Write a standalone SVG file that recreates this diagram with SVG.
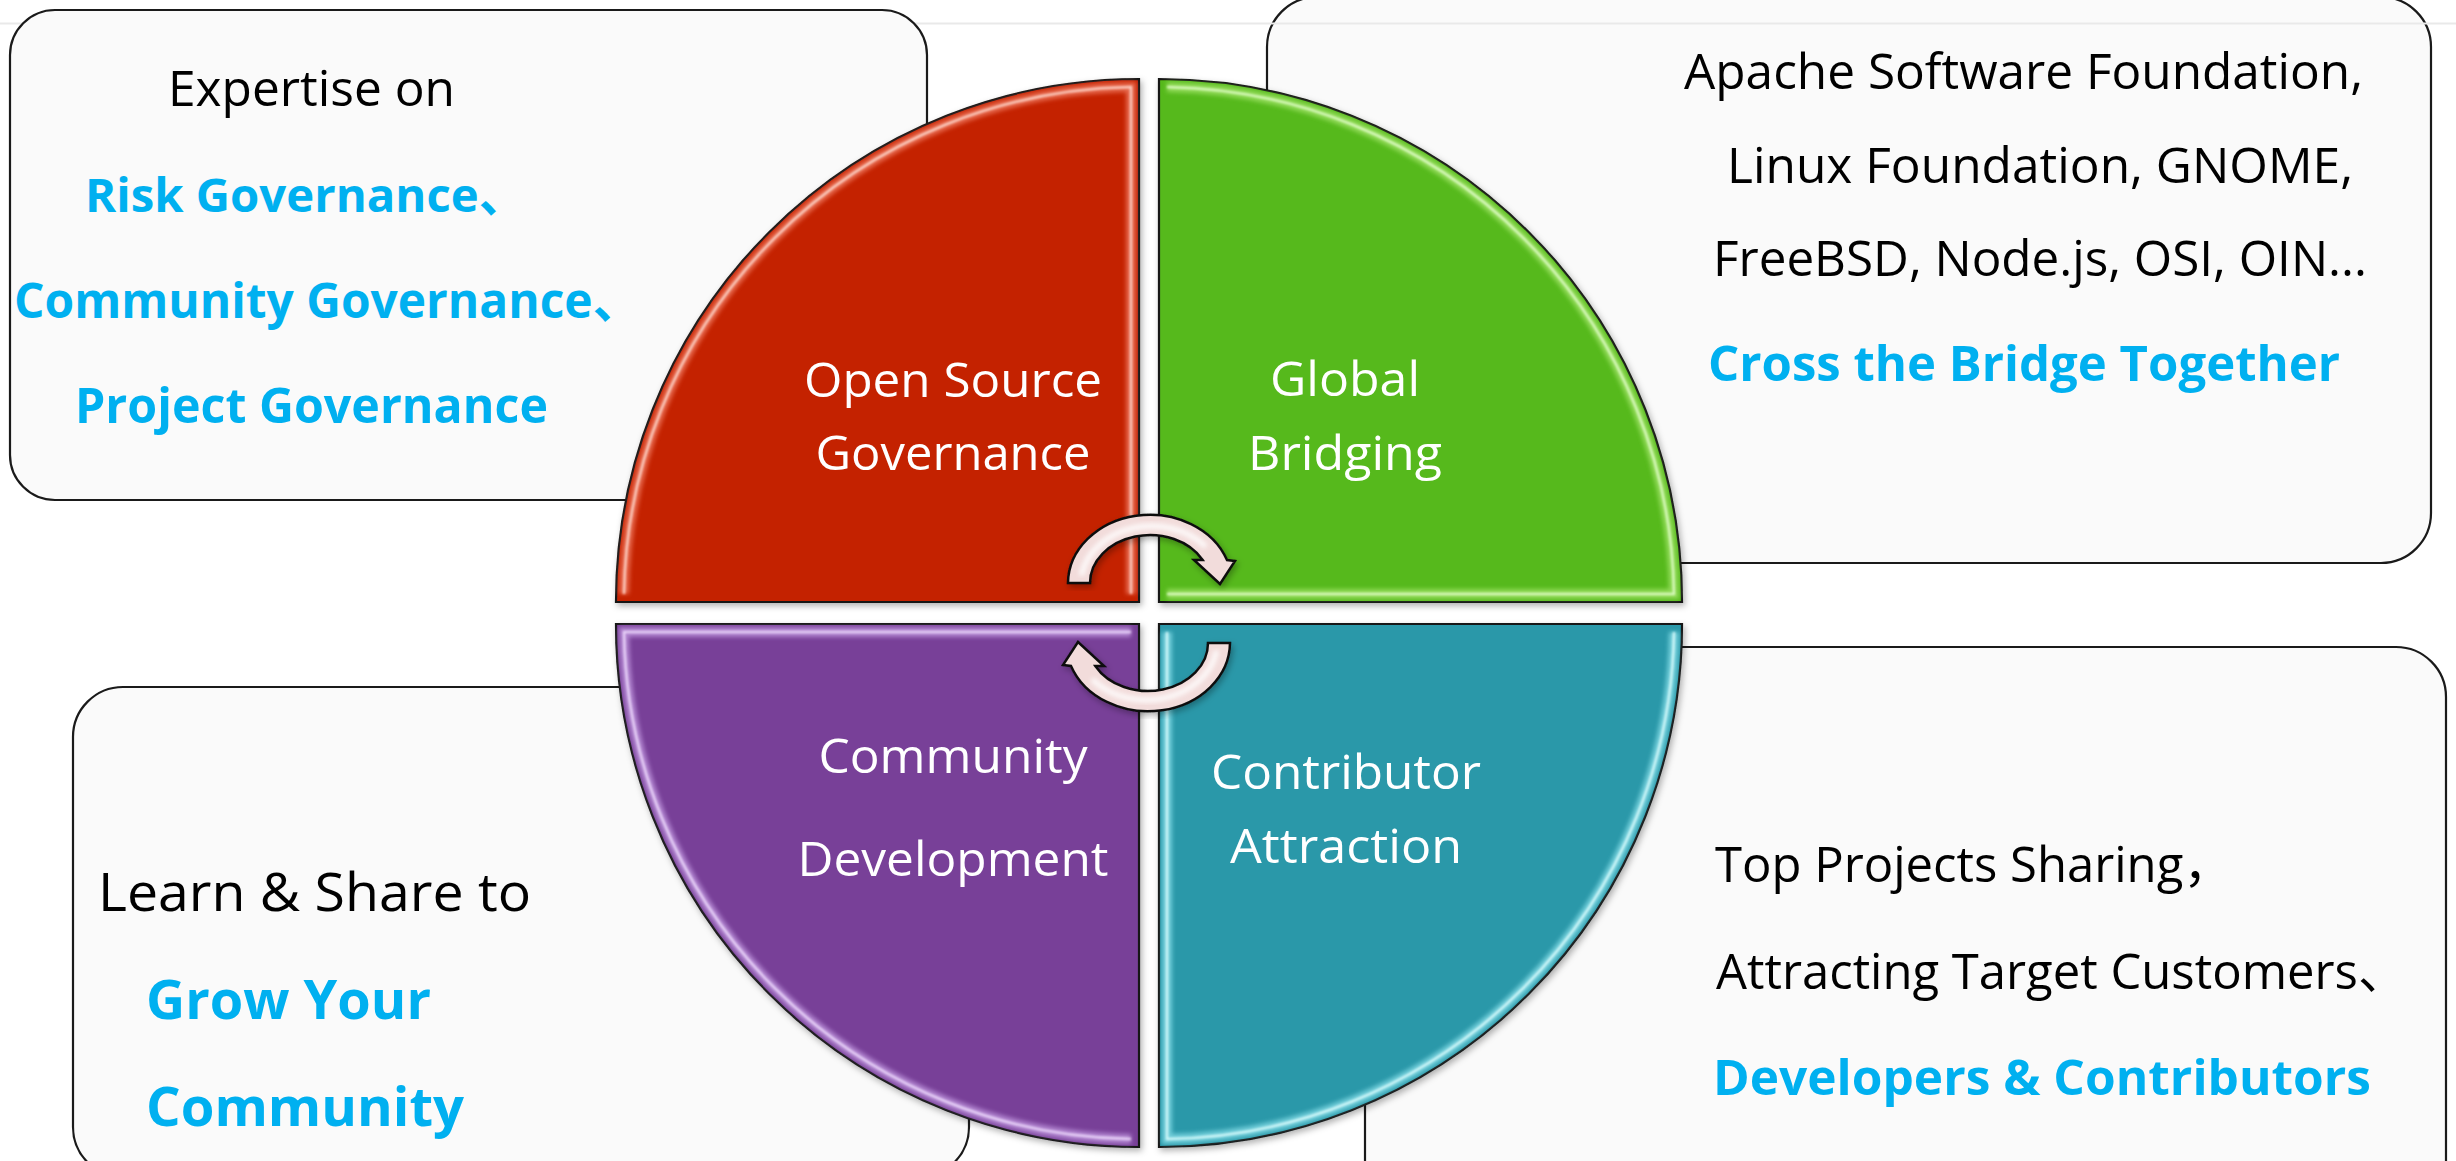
<svg xmlns="http://www.w3.org/2000/svg" width="2456" height="1161" viewBox="0 0 2456 1161">
<defs>
<style>
.box{fill:#FAFAFA;stroke:#1a1a1a;stroke-width:2.2}
.t{font-family:"Open Sans","Noto Sans CJK SC",sans-serif;font-size:49px;fill:#000}
.b{font-weight:700;fill:#00B0F0}
.w{fill:#fff;font-size:48px;text-anchor:middle}
.q{stroke:#151515;stroke-width:2.2;filter:url(#shadow)}
.hlw{fill:none;stroke-width:10;stroke-linejoin:miter;opacity:0.7;filter:url(#soft)}
.hln{fill:none;stroke-width:2.5;stroke-linejoin:miter;opacity:0.85;filter:url(#soft2)}
.arrow{fill:#F2DCDB;stroke:#111;stroke-width:2.5;stroke-linejoin:miter;filter:url(#shadow)}
.ahl{fill:none;stroke:#fff;stroke-width:6;stroke-linecap:round;opacity:0.75;filter:url(#soft)}
</style>
<filter id="shadow" x="-10%" y="-10%" width="120%" height="120%">
<feDropShadow dx="2" dy="3" stdDeviation="3" flood-color="#000" flood-opacity="0.3"/>
</filter>
<filter id="soft" x="-10%" y="-10%" width="120%" height="120%">
<feGaussianBlur stdDeviation="2"/>
</filter>
<filter id="soft2" x="-10%" y="-10%" width="120%" height="120%">
<feGaussianBlur stdDeviation="0.8"/>
</filter>
</defs>
<rect x="0" y="0" width="2456" height="1161" fill="#ffffff"/>

<g id="box-global-bridging">
<rect class="box" x="1267" y="-3" width="1164" height="566" rx="50" ry="50"/>
</g>
<line x1="0" y1="23.5" x2="2456" y2="23.5" stroke="#E9E9E9" stroke-width="2"/>
<g id="box-governance">
<rect class="box" x="10" y="10" width="917" height="490" rx="45" ry="45"/>
<text class="t" x="168" y="106" textLength="287" lengthAdjust="spacingAndGlyphs">Expertise on</text>
<text class="t b" style="font-size:47.3px" x="85" y="212">Risk Governance、</text>
<text class="t b" style="font-size:47.9px" x="14" y="318">Community Governance、</text>
<text class="t b" x="75" y="423" textLength="473" lengthAdjust="spacingAndGlyphs">Project Governance</text>
</g>
<g id="box-global-text">
<text class="t" x="1684" y="89" textLength="679" lengthAdjust="spacingAndGlyphs">Apache Software Foundation,</text>
<text class="t" x="1727" y="183" textLength="626" lengthAdjust="spacingAndGlyphs">Linux Foundation, GNOME,</text>
<text class="t" x="1713" y="276" textLength="654" lengthAdjust="spacingAndGlyphs">FreeBSD, Node.js, OSI, OIN...</text>
<text class="t b" x="1708" y="381" textLength="632" lengthAdjust="spacingAndGlyphs">Cross the Bridge Together</text>
</g>
<g id="box-community">
<rect class="box" x="73" y="687" width="896" height="490" rx="50" ry="50"/>
<text class="t" style="font-size:53px" x="98" y="911" textLength="433" lengthAdjust="spacingAndGlyphs">Learn &amp; Share to</text>
<text class="t b" style="font-size:53px" x="146" y="1019" textLength="285" lengthAdjust="spacingAndGlyphs">Grow Your</text>
<text class="t b" style="font-size:53px" x="146" y="1126" textLength="318" lengthAdjust="spacingAndGlyphs">Community</text>
</g>
<g id="box-contributor">
<rect class="box" x="1365" y="647" width="1081" height="580" rx="50" ry="50"/>
<text class="t" x="1715" y="882">Top Projects Sharing，</text>
<text class="t" x="1716" y="989">Attracting Target Customers、</text>
<text class="t b" x="1713" y="1095" textLength="658" lengthAdjust="spacingAndGlyphs">Developers &amp; Contributors</text>
</g>

<g id="q-open-source-governance">
<path class="q" fill="#C42406" d="M1139,602 L616,602 A523,523 0 0 1 1139,79 Z"/>
<path class="hlw" stroke="#F4836A" d="M624,594 A515,515 0 0 1 1131,87 L1131,594"/>
<path class="hln" stroke="#FFE0D6" d="M624,594 A515,515 0 0 1 1131,87 L1131,594"/>
<text class="t w" x="953" y="397" textLength="298" lengthAdjust="spacingAndGlyphs">Open Source</text>
<text class="t w" x="953" y="470" textLength="275" lengthAdjust="spacingAndGlyphs">Governance</text>
</g>
<g id="q-global-bridging">
<path class="q" fill="#56B91B" d="M1159,602 L1159,79 A523,523 0 0 1 1682,602 Z"/>
<path class="hlw" stroke="#A8E870" d="M1167,87 A515,515 0 0 1 1674,594 L1167,594"/>
<path class="hln" stroke="#E6FFD0" d="M1167,87 A515,515 0 0 1 1674,594 L1167,594"/>
<text class="t w" x="1345" y="396" textLength="150" lengthAdjust="spacingAndGlyphs">Global</text>
<text class="t w" x="1345" y="470" textLength="194" lengthAdjust="spacingAndGlyphs">Bridging</text>
</g>
<g id="q-contributor-attraction">
<path class="q" fill="#2A98A9" d="M1159,624 L1682,624 A523,523 0 0 1 1159,1147 Z"/>
<path class="hlw" stroke="#8FE4EE" d="M1674,632 A515,515 0 0 1 1167,1139 L1167,632"/>
<path class="hln" stroke="#E2FFFF" d="M1674,632 A515,515 0 0 1 1167,1139 L1167,632"/>
<text class="t w" x="1346" y="789" textLength="270" lengthAdjust="spacingAndGlyphs">Contributor</text>
<text class="t w" x="1346" y="863" textLength="232" lengthAdjust="spacingAndGlyphs">Attraction</text>
</g>
<g id="q-community-development">
<path class="q" fill="#783F98" d="M1139,624 L1139,1147 A523,523 0 0 1 616,624 Z"/>
<path class="hlw" stroke="#C8A0E6" d="M1131,632 L624,632 A515,515 0 0 0 1131,1139"/>
<path class="hln" stroke="#F2E0FF" d="M1131,632 L624,632 A515,515 0 0 0 1131,1139"/>
<text class="t w" x="953" y="773" textLength="269" lengthAdjust="spacingAndGlyphs">Community</text>
<text class="t w" x="953" y="876" textLength="311" lengthAdjust="spacingAndGlyphs">Development</text>
</g>

<g id="connectors">
<path class="arrow" d="M1068,583 A82,69 0 0 1 1227,560 L1235,561 L1220,584 L1194,560 L1202.7,560 A60,48 0 0 0 1090,583 Z"/>
<path class="ahl" d="M1082,573 A71,58.5 0 0 1 1204,545"/>
<path class="arrow" d="M1230,643 A82,69 0 0 1 1071,666 L1063,665 L1078,642 L1104,666 L1095.3,666 A60,48 0 0 0 1208,643 Z"/>
<path class="ahl" d="M1216,653 A71,58.5 0 0 1 1094,681"/>
</g>
</svg>
